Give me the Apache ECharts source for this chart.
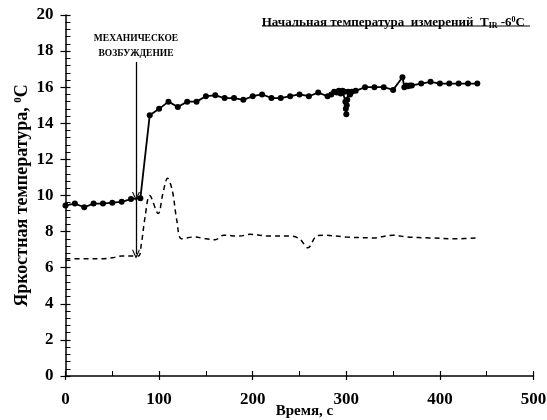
<!DOCTYPE html>
<html>
<head>
<meta charset="utf-8">
<script src="https://cdn.jsdelivr.net/npm/echarts@6/dist/echarts.min.js"></script>
<style>
  html, body { margin: 0; padding: 0; background: #fff; }
  #chart { width: 547px; height: 420px; }
</style>
</head>
<body>
<div id="chart"></div>
<script>
// Solid curve (with markers): time, s / brightness temperature, degC
const solidTime = [0, 10, 20, 30, 40, 50, 60, 70, 80, 90, 100, 110, 120, 130, 140, 150,
  160, 170, 180, 190, 200, 210, 220, 230, 240, 250, 260, 270, 280,
  284, 287, 290, 292, 294, 296, 298, 299, 299.5, 300, 300.5, 301, 302, 304, 306, 310,
  320, 330, 340, 350, 360, 362, 364, 366, 368, 370,
  380, 390, 400, 410, 420, 430, 440];
const solidTemp = [9.45, 9.55, 9.35, 9.55, 9.55, 9.6, 9.65, 9.8, 9.85, 14.45, 14.8, 15.2, 14.9, 15.2, 15.2, 15.5,
  15.55, 15.4, 15.4, 15.3, 15.5, 15.6, 15.4, 15.4, 15.5, 15.6, 15.5, 15.7, 15.5,
  15.6, 15.75, 15.7, 15.8, 15.65, 15.8, 15.75, 15.2, 14.8, 14.5, 15.0, 15.3, 15.75, 15.6, 15.75, 15.8,
  16.0, 16.0, 16.0, 15.85, 16.55, 16.0, 16.1, 16.05, 16.1, 16.1,
  16.2, 16.3, 16.2, 16.2, 16.2, 16.2, 16.2];

// Dashed curve (no markers)
const dashTime = [0, 20, 40, 50, 60, 70, 78, 81, 85, 90, 99, 104, 109, 114, 119, 124, 137, 150, 160, 169,
  186, 197, 218, 240, 250, 259, 268, 275, 300, 329, 350, 365, 389, 418, 440];
const dashTemp = [6.5, 6.5, 6.5, 6.55, 6.65, 6.65, 6.65, 7.3, 8.8, 10.0, 9.0, 10.1, 10.95, 10.3, 8.6, 7.6, 7.7, 7.6, 7.55, 7.8,
  7.75, 7.85, 7.75, 7.75, 7.6, 7.1, 7.75, 7.8, 7.7, 7.65, 7.8, 7.7, 7.65, 7.6, 7.65];

// Excitation arrow: time and temperatures (top, first head, second head)
const arrowTime = 75.3;
const arrowLevels = [17.4, 9.95, 6.75];

const xTicks = { min: 0, max: 500, interval: 100 };
const yTicks = { min: 0, max: 20, interval: 2 };

const FONT = '"Liberation Serif", "DejaVu Serif", serif';
const chevron = 'path://M5,0L10,9L8.6,9L5,2.6L1.4,9L0,9Z';

const gridBox = { left: 65.5, right: 13.5, top: 15, bottom: 44, outerBoundsMode: 'none', containLabel: false };

const chart = echarts.init(document.getElementById('chart'), null, { renderer: 'canvas' });

chart.setOption({
  animation: false,
  backgroundColor: '#fff',
  title: {
    text: '{a|Начальная температура  измерений  T}{sub|IR}{a| -6}{sup|0}{a|C}',
    right: 17,
    top: 10,
    textStyle: {
      rich: {
        a: { fontFamily: FONT, fontWeight: 'bold', fontSize: 13, color: '#000' },
        sub: { fontFamily: FONT, fontWeight: 'bold', fontSize: 8, color: '#000', padding: [7, 0, 0, 0] },
        sup: { fontFamily: FONT, fontWeight: 'bold', fontSize: 8, color: '#000', padding: [0, 0, 6, 0] }
      }
    }
  },
  graphic: [
    {
      type: 'line',
      shape: { x1: 262, y1: 26, x2: 530, y2: 26 },
      style: { stroke: '#000', lineWidth: 1 }
    },
    {
      type: 'text',
      x: 136,
      y: 31,
      style: {
        text: 'МЕХАНИЧЕСКОЕ\nВОЗБУЖДЕНИЕ',
        font: 'bold 9.5px ' + FONT,
        fill: '#000',
        align: 'center',
        lineHeight: 15
      }
    }
  ],
  grid: [
    Object.assign({}, gridBox),
    Object.assign({}, gridBox)
  ],
  xAxis: [
    {
      type: 'value',
      gridIndex: 0,
      min: xTicks.min, max: xTicks.max, interval: xTicks.interval,
      name: 'Время, с',
      nameLocation: 'middle',
      nameGap: 28,
      nameMoveOverlap: false,
      nameTextStyle: { fontFamily: FONT, fontWeight: 'bold', fontSize: 15, color: '#000', padding: [0, 0, 0, 10] },
      axisLine: { lineStyle: { color: '#000', width: 1.5 } },
      axisTick: { inside: true, length: 5, lineStyle: { color: '#000', width: 1.2 } },
      minorTick: { show: true, splitNumber: 2, length: 5, lineStyle: { color: '#000', width: 1 } },
      axisLabel: { fontFamily: FONT, fontWeight: 'bold', fontSize: 17, color: '#000', margin: 15 },
      splitLine: { show: false }
    },
    {
      type: 'value',
      gridIndex: 1,
      min: xTicks.min, max: xTicks.max, interval: xTicks.interval,
      axisLine: { show: false },
      axisTick: { inside: false, length: 4, lineStyle: { color: '#000', width: 1.2 } },
      axisLabel: { show: false },
      splitLine: { show: false }
    }
  ],
  yAxis: [
    {
      type: 'value',
      gridIndex: 0,
      min: yTicks.min, max: yTicks.max, interval: yTicks.interval,
      name: '{a|Яркостная температура, }{sup|0}{a|C}',
      nameLocation: 'middle',
      nameGap: 34,
      nameMoveOverlap: false,
      nameRotate: 90,
      nameTextStyle: {
        rich: {
          a: { fontFamily: FONT, fontWeight: 'bold', fontSize: 18, color: '#000' },
          sup: { fontFamily: FONT, fontWeight: 'bold', fontSize: 11, color: '#000', padding: [0, 0, 8, 0] }
        }
      },
      axisLine: { lineStyle: { color: '#000', width: 1.5 } },
      axisTick: { inside: true, length: 5, lineStyle: { color: '#000', width: 1.2 } },
      minorTick: { show: true, splitNumber: 5, length: 5, lineStyle: { color: '#000', width: 1 } },
      axisLabel: { fontFamily: FONT, fontWeight: 'bold', fontSize: 17, color: '#000', margin: 12 },
      splitLine: { show: false }
    },
    {
      type: 'value',
      gridIndex: 1,
      min: yTicks.min, max: yTicks.max, interval: yTicks.interval,
      axisLine: { show: false },
      axisTick: { inside: false, length: 5, lineStyle: { color: '#000', width: 1.2 } },
      axisLabel: { show: false },
      splitLine: { show: false }
    }
  ],
  series: [
    {
      type: 'line',
      xAxisIndex: 0,
      yAxisIndex: 0,
      data: solidTime.map((t, i) => [t, solidTemp[i]]),
      symbol: 'circle',
      symbolSize: 6,
      showAllSymbol: true,
      itemStyle: { color: '#000' },
      lineStyle: { color: '#000', width: 1.8 },
      z: 3,
      markLine: {
        silent: true,
        symbol: ['none', chevron],
        symbolSize: [8, 9],
        label: { show: false },
        lineStyle: { color: '#000', width: 1.3, type: 'solid' },
        data: [
          [{ coord: [arrowTime, arrowLevels[0]] }, { coord: [arrowTime, arrowLevels[1]] }],
          [{ coord: [arrowTime, arrowLevels[1]] }, { coord: [arrowTime, arrowLevels[2]] }]
        ]
      }
    },
    {
      type: 'line',
      xAxisIndex: 0,
      yAxisIndex: 0,
      data: dashTime.map((t, i) => [t, dashTemp[i]]),
      symbol: 'none',
      smooth: 0.35,
      lineStyle: { color: '#000', width: 1.5, type: [5, 4] },
      z: 2
    }
  ]
});
</script>
</body>
</html>
